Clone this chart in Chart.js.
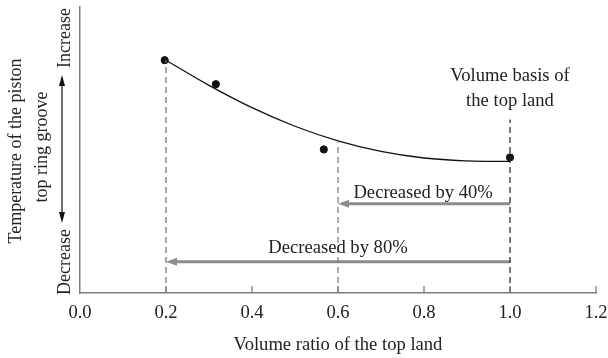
<!DOCTYPE html>
<html><head><meta charset="utf-8">
<script src="https://cdn.jsdelivr.net/npm/chart.js@4/dist/chart.umd.min.js"></script>
<style>html,body{margin:0;padding:0;background:#fff}</style>
</head><body>
<canvas id="c" width="608" height="358"></canvas>
<script>
// Measured top-groove temperature (relative scale, 0-100) vs. top-land volume ratio
const measuredRatio = [0.197, 0.316, 0.567, 1.0];
const measuredTemp = [81.4, 73.0, 50.2, 47.4];
// Trend curve through the measurements
const fitRatio = [0.2, 0.3, 0.4, 0.5, 0.6, 0.7, 0.8, 0.9, 1.0];
const fitTemp = [81.4, 72.6, 64.8, 58.3, 53.2, 49.5, 47.2, 46.2, 46.0];
// Axis ticks
const xTicks = [0.0, 0.2, 0.4, 0.6, 0.8, 1.0, 1.2];
// Vertical guides: ratio and the temperature level where each starts
const guideRatios = [0.2, 0.6, 1.0];
const guideTops = [81.4, 53.2, 60.7];
const guideColors = ['#6e6e6e', '#7a7a7a', '#222222'];
// Volume reductions relative to the basis
const reductionFrom = [1.0, 1.0];
const reductionTo = [0.6, 0.2];
const reductionLevel = [31.2, 10.9];
const reductionLabels = ['Decreased by 40%', 'Decreased by 80%'];
const reductionLabelAt = [[0.798, 35.1], [0.6, 15.8]];

const SERIF = '"Liberation Serif", "DejaVu Serif", serif';
const FONT_H = '18.6px ' + SERIF;
const FONT_V = '18px ' + SERIF;
const AXIS = '#7c7c7c';
const ARROW = '#8c8c8c';

const datasets = [];
guideRatios.forEach((r, i) => {
  datasets.push({
    type: 'line', data: [{x: r, y: 0}, {x: r, y: guideTops[i]}],
    borderColor: guideColors[i], borderWidth: 1.2, borderDash: [6, 4],
    pointRadius: 0, fill: false
  });
});
reductionFrom.forEach((f, i) => {
  datasets.push({
    type: 'line', data: [{x: f, y: reductionLevel[i]}, {x: reductionTo[i] + 0.015, y: reductionLevel[i]}],
    borderColor: ARROW, borderWidth: 3, pointRadius: 0, fill: false
  });
});
datasets.push({
  type: 'line', data: fitRatio.map((x, i) => ({x, y: fitTemp[i]})),
  borderColor: '#111', borderWidth: 1.3, tension: 0.4,
  pointRadius: 0, fill: false
});
datasets.push({
  type: 'scatter', data: measuredRatio.map((x, i) => ({x, y: measuredTemp[i]})),
  backgroundColor: '#111', borderColor: '#111', pointRadius: 3.6, showLine: false
});

function tri(ctx, pts, color) {
  ctx.beginPath();
  ctx.moveTo(pts[0][0], pts[0][1]);
  ctx.lineTo(pts[1][0], pts[1][1]);
  ctx.lineTo(pts[2][0], pts[2][1]);
  ctx.closePath();
  ctx.fillStyle = color;
  ctx.fill();
}

function vtext(ctx, text, x, y) {
  ctx.save();
  ctx.translate(x, y); ctx.rotate(-Math.PI / 2);
  ctx.fillText(text, 0, 0);
  ctx.restore();
}

const decorations = {
  id: 'decorations',
  afterDatasetsDraw(chart) {
    const ctx = chart.ctx;
    const xs = chart.scales.x, ys = chart.scales.y;
    const area = chart.chartArea;
    ctx.save();
    // inward tick marks on the x axis
    ctx.strokeStyle = AXIS; ctx.lineWidth = 1.3;
    xTicks.forEach(v => {
      if (v === 0) return;
      const px = xs.getPixelForValue(v);
      ctx.beginPath(); ctx.moveTo(px, area.bottom); ctx.lineTo(px, area.bottom - 7); ctx.stroke();
    });
    // arrowheads on the reduction arrows
    reductionTo.forEach((t, i) => {
      const px = xs.getPixelForValue(t), py = ys.getPixelForValue(reductionLevel[i]);
      tri(ctx, [[px, py], [px + 11, py - 4], [px + 11, py + 4]], ARROW);
    });
    ctx.fillStyle = '#222';
    ctx.font = FONT_H;
    ctx.textAlign = 'center'; ctx.textBaseline = 'middle';
    reductionLabels.forEach((t, i) => {
      ctx.fillText(t, xs.getPixelForValue(reductionLabelAt[i][0]), ys.getPixelForValue(reductionLabelAt[i][1]));
    });
    const bx = xs.getPixelForValue(1.0);
    ctx.fillText('Volume basis of', bx, 76);
    ctx.fillText('the top land', bx, 101);
    // x axis title
    ctx.fillText('Volume ratio of the top land', (area.left + area.right) / 2, 345);
    // y axis title and direction arrow
    ctx.font = FONT_V;
    vtext(ctx, 'Temperature of the piston', 16, 151);
    vtext(ctx, 'top ring groove', 42, 147);
    vtext(ctx, 'Increase', 65, 38);
    vtext(ctx, 'Decrease', 65, 262);
    ctx.strokeStyle = '#111'; ctx.lineWidth = 1.2;
    ctx.beginPath(); ctx.moveTo(62, 84); ctx.lineTo(62, 214); ctx.stroke();
    tri(ctx, [[62, 75], [59, 86], [65, 86]], '#111');
    tri(ctx, [[62, 223], [59, 212], [65, 212]], '#111');
    ctx.restore();
  }
};

new Chart(document.getElementById('c'), {
  data: {datasets},
  options: {
    responsive: false, animation: false, devicePixelRatio: 1,
    layout: {padding: {left: 80, top: 7, right: 12, bottom: 0}},
    plugins: {legend: {display: false}, tooltip: {enabled: false}},
    scales: {
      x: {
        type: 'linear', min: 0, max: 1.2,
        afterBuildTicks: s => { s.ticks = xTicks.map(v => ({value: v})); },
        afterFit: s => { s.height = 65; s.paddingLeft = 0; s.paddingRight = 0; },
        grid: {display: false, drawTicks: false},
        border: {display: true, color: AXIS, width: 1.5},
        ticks: {callback: v => Number(v).toFixed(1), font: {family: SERIF, size: 18.6}, color: '#222', padding: 9, maxRotation: 0, autoSkip: false}
      },
      y: {
        type: 'linear', min: 0, max: 100,
        afterFit: s => { s.width = 0; s.paddingTop = 0; s.paddingBottom = 0; },
        grid: {display: false, drawTicks: false},
        border: {display: true, color: AXIS, width: 1.5},
        ticks: {display: false}
      }
    }
  },
  plugins: [decorations]
});
</script>
</body></html>
